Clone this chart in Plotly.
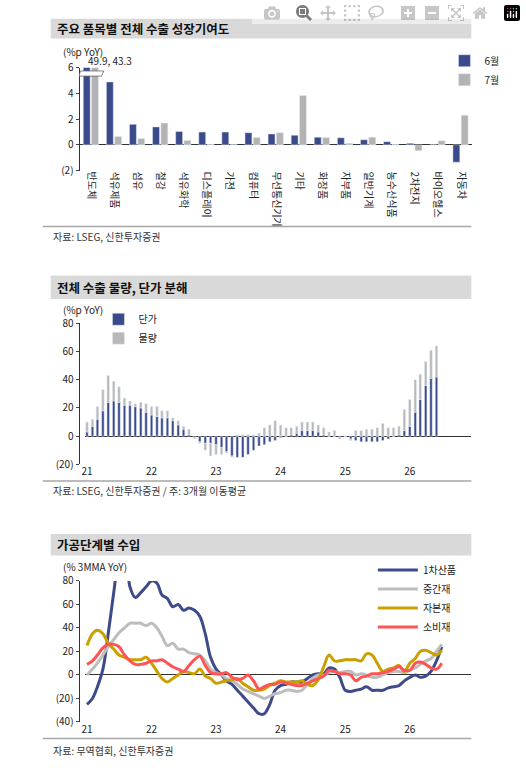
import plotly.graph_objects as go

H, W = 775, 526
FONT = "Noto Sans CJK KR"
NAVY = "#3B4A8A"
GRAY = "#B3B3B3"

# Panel 1
items = ["반도체","석유제품","섬유","철강","석유화학","디스플레이","가전","컴퓨터","무선통신기기","기타",
         "화장품","자부품","일반기계","농수산식품","2차전지","바이오헬스","자동차"]
jun = [49.9,4.9,1.6,1.4,1.05,1.0,1.0,0.95,0.85,0.75,0.6,0.55,0.4,0.25,0.12,0.0,-1.35]
jul = [43.3,0.65,0.5,1.7,0.35,0.05,0.02,0.58,0.95,3.85,0.58,0.12,0.6,0.03,-0.45,0.32,2.3]

# Panel 2 (monthly, Jan 2021 - Jun 2026)
months2 = [f"{y}-{m:02d}-01" for y in range(2021, 2027) for m in range(1, 13)][:66]
price = [3,7,12,18,24,25,24,22,22,21,20,17,
         15,14,13,13,11,8,5,1,-1,-4,-5,-5,
         -6,-8,-11,-14,-15,-15,-13,-10,-7,-6,-4,-3,
         -1,0,1,2,4,4,4,3,1,0,0,-1,
         -0.5,-2,-3,-4,-4,-4,-4,-3,-2,0,1,4,
         7,17,26,36,41,42]
volume = [7,5,9,15,19,14,11,5,3,2,4,6,
          6,7,5,5,2,3,2,4,-1,-1,-5,-9,
          -7,-5,-1,-1,1,1,1,1,2,6,8,11,
          8,6,5,5,6,6,6,5,5,3,4,-1,
          0,-1,4,4,5,5,6,9,6,6,6,15,
          19,23,18,17,20,22]

# Panel 3 (monthly, Jan 2021 - Jul 2026)
months3 = [f"{y}-{m:02d}-01" for y in range(2021, 2027) for m in range(1, 13)][:67]
primary = [-25,-20,-10,5,35,70,100,110,75,66,70,75,80,78,68,65,58,60,55,57,55,50,35,15,5,0,-5,-8,-13,-18,
           -23,-28,-33,-33,-25,-13,-9,-8,-6,-6,-6,-3,0,1,1,6,5,-2,-13,-14,-13,-12,-10,-13,-13,-13,-11,-10,
           -9,-5,-2,0,-2,-1,3,12,24]
intermediate = [0,5,10,17,24,30,36,40,44,44,44,42,44,40,33,25,27,22,22,19,18,17,12,5,2,0,-3,-5,-8,-12,
                -14,-16,-18,-20,-18,-16,-15,-13,-13,-14,-13,-8,-3,0,0,2,3,2,3,3,0,1,0,-2,-2,0,2,3,3,2,4,6,
                9,12,14,20,26]
capital = [25,35,38,35,27,22,17,15,13,13,13,15,10,3,-3,-6,-3,0,3,2,1,5,-1,-3,-7,-6,-5,-4,-3,-7,-10,-13,
           -13,-12,-9,-7,-5,-6,-6,-6,-5,-8,-9,-4,7,17,12,12,13,13,13,12,18,17,10,3,5,6,8,3,10,14,20,21,
           19,17,21]
consumer = [9,12,17,23,26,26,24,17,12,9,9,10,12,12,13,10,7,5,3,8,13,16,8,2,1,1,2,-2,-4,-3,0,-5,-12,-10,
            -8,-8,-6,-7,-8,-9,-9,-7,-5,-3,-1,4,3,1,1,0,-5,-2,-1,1,1,2,3,5,7,4,4,10,11,9,6,5,10]

year_ticks = [f"{y}-01-01" for y in range(2021, 2027)]
year_labels = [str(y)[2:] for y in range(2021, 2027)]

def py(px):
    return 1 - px / H

fig = go.Figure()
fig.add_bar(x=items, y=jun, name="6월", marker_color=NAVY, xaxis="x", yaxis="y", legend="legend", width=0.3, offset=-0.34)
fig.add_bar(x=items, y=jul, name="7월", marker_color=GRAY, xaxis="x4", yaxis="y", legend="legend", width=0.3, offset=0.02)

fig.add_bar(x=months2, y=price, name="단가", marker_color=NAVY, xaxis="x2", yaxis="y2", legend="legend2", width=14*86400000)
fig.add_bar(x=months2, y=volume, name="물량", marker_color="#B8B8B8", xaxis="x2", yaxis="y2", legend="legend2", width=14*86400000)

for name, vals, col in [("1차산품", primary, "#3E4B8B"), ("중간재", intermediate, "#BDBDBD"),
                        ("자본재", capital, "#C9A000"), ("소비재", consumer, "#FF5454")]:
    fig.add_scatter(x=months3, y=vals, name=name, mode="lines", line=dict(color=col, width=3, shape="spline"),
                    xaxis="x3", yaxis="y3", legend="legend3")

tickfont = dict(family=FONT, size=10, color="#222")
xd = [77/W, 472/W]
xd2 = [82/W, 471/W]
fig.update_layout(
    width=W, height=H, margin=dict(l=0, r=0, t=0, b=0),
    paper_bgcolor="white", plot_bgcolor="white",
    font=dict(family=FONT, size=10, color="#222"),
    barmode="relative",
    xaxis=dict(domain=xd, anchor="y", showgrid=False, showline=False, ticks="", tickangle=90, tickfont=tickfont,
               range=[-0.5, 16.5]),
    xaxis4=dict(domain=xd, anchor="y", overlaying="x", showgrid=False, showline=False, showticklabels=False,
                ticks="", range=[-0.5, 16.5], matches="x"),
    yaxis=dict(domain=[py(165), py(60)], range=[-2, 6], tickvals=[-2, 0, 2, 4, 6], ticktext=["(2)", "0", "2", "4", "6"],
               showgrid=False, showline=True, linecolor="#333", ticks="outside", ticklen=3, zeroline=True,
               zerolinecolor="#333", zerolinewidth=1.2, tickfont=tickfont),
    xaxis2=dict(domain=xd2, anchor="y2", type="date", range=["2020-12-18", "2026-12-15"], tickvals=year_ticks,
                ticktext=year_labels, showgrid=False, showline=False, ticks="", tickfont=tickfont),
    yaxis2=dict(domain=[py(465), py(321)], range=[-20, 80], tickvals=[-20, 0, 20, 40, 60, 80],
                ticktext=["(20)", "0", "20", "40", "60", "80"], showgrid=False, showline=True, linecolor="#333",
                ticks="outside", ticklen=3, zeroline=True, zerolinecolor="#333", zerolinewidth=1.2, tickfont=tickfont),
    xaxis3=dict(domain=xd2, anchor="y3", type="date", range=["2020-12-18", "2026-12-15"], tickvals=year_ticks,
                ticktext=year_labels, showgrid=False, showline=False, ticks="", tickfont=tickfont),
    yaxis3=dict(domain=[py(728), py(584)], range=[-40, 80], tickvals=[-40, -20, 0, 20, 40, 60, 80],
                ticktext=["(40)", "(20)", "0", "20", "40", "60", "80"], showgrid=False, showline=True, linecolor="#333",
                ticks="outside", ticklen=3, zeroline=True, zerolinecolor="#333", zerolinewidth=1.2, tickfont=tickfont),
    legend=dict(x=444/W, y=py(38), xanchor="left", yanchor="top", font=dict(size=10), itemwidth=30,
                tracegroupgap=4, bgcolor="rgba(0,0,0,0)"),
    legend2=dict(x=96/W, y=py(302), xanchor="left", yanchor="top", font=dict(size=10), itemwidth=30,
                 bgcolor="rgba(0,0,0,0)"),
    legend3=dict(x=372/W, y=py(558), xanchor="left", yanchor="top", font=dict(size=10), itemwidth=40,
                 bgcolor="rgba(0,0,0,0)", tracegroupgap=0),
    showlegend=True,
)

shapes = []
for y0, y1 in [(10, 30), (272, 296), (536, 558)]:
    shapes.append(dict(type="rect", xref="paper", yref="paper", x0=48/W, x1=471/W, y0=py(y1), y1=py(y0),
                       fillcolor="#D9D9D9", line_width=0, layer="below"))
for yl in [222, 482, 745]:
    shapes.append(dict(type="line", xref="paper", yref="paper", x0=40/W, x1=471/W, y0=py(yl), y1=py(yl),
                       line=dict(color="#A6A6A6", width=1.5)))
shapes.append(dict(type="path", xref="x", yref="y", path="M -0.55,5.35 L 0.45,5.35 L 0.55,5.75 L -0.45,5.75 Z",
                   fillcolor="white", line=dict(color="#666", width=0.8)))
fig.update_layout(shapes=shapes)

ann = []
for txt, x, y in [("주요 품목별 전체 수출 성장기여도", 52, 20), ("전체 수출 물량, 단가 분해", 52, 284),
                  ("가공단계별 수입", 52, 547)]:
    ann.append(dict(text=f"<b>{txt}</b>", x=x/W, y=py(y), xref="paper", yref="paper", xanchor="left",
                    yanchor="middle", showarrow=False, font=dict(size=12.5, color="#111")))
for txt, y in [("자료: LSEG, 신한투자증권", 232), ("자료: LSEG, 신한투자증권 / 주: 3개월 이동평균", 492),
               ("자료: 무역협회, 신한투자증권", 757)]:
    ann.append(dict(text=txt, x=48/W, y=py(y), xref="paper", yref="paper", xanchor="left", yanchor="middle",
                    showarrow=False, font=dict(size=10, color="#333")))
for txt, x, y in [("(%p YoY)", 58, 43), ("(%p YoY)", 58, 307), ("(% 3MMA YoY)", 58, 569), ("49.9, 43.3", 83, 53)]:
    ann.append(dict(text=txt, x=x/W, y=py(y), xref="paper", yref="paper", xanchor="left", yanchor="middle",
                    showarrow=False, font=dict(size=10, color="#222")))
fig.update_layout(annotations=ann)

fig.write_html("out.html",
               post_script="document.body.style.margin='0';document.body.style.overflow='hidden';window.dispatchEvent(new Event('resize'));")
